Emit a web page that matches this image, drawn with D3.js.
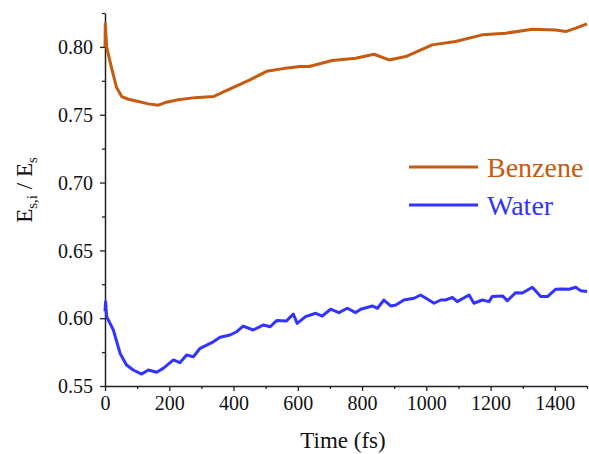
<!DOCTYPE html>
<html>
<head>
<meta charset="utf-8">
<script src="https://cdn.jsdelivr.net/npm/d3@7"></script>
<style>
  html, body { margin: 0; padding: 0; background: #fff; }
  svg { display: block; }
  svg text { font-family: "Liberation Serif", "Times New Roman", serif !important; }
</style>
</head>
<body>
<svg id="chart" width="589" height="454"></svg>
<script>
// ---- data ----
const benzeneTime = [0, 1, 5, 8, 21, 36, 52, 73, 104, 135, 166, 187, 228, 280, 337, 379, 451, 503, 555, 607, 635, 707, 780, 837, 884, 936, 1018, 1091, 1174, 1247, 1330, 1402, 1434, 1465, 1500];
const benzeneValue = [0.800, 0.817, 0.800, 0.797, 0.784, 0.770, 0.7634, 0.7614, 0.7597, 0.758, 0.757, 0.759, 0.761, 0.7626, 0.7634, 0.768, 0.7757, 0.782, 0.784, 0.7856, 0.7856, 0.790, 0.7917, 0.7946, 0.7904, 0.7929, 0.8015, 0.804, 0.8089, 0.8101, 0.813, 0.8125, 0.8113, 0.8138, 0.817];

const waterTime = [0, 2, 5, 26, 47, 67, 88, 114, 135, 161, 181, 213, 233, 254, 275, 296, 337, 358, 389, 410, 430, 461, 493, 514, 534, 565, 586, 598, 624, 656, 676, 702, 728, 754, 780, 796, 832, 848, 868, 889, 905, 930, 962, 982, 1008, 1024, 1045, 1060, 1081, 1096, 1133, 1148, 1174, 1195, 1205, 1237, 1252, 1278, 1299, 1330, 1356, 1377, 1402, 1423, 1444, 1465, 1480, 1500];
const waterValue = [0.605, 0.6122, 0.6011, 0.5913, 0.574, 0.5655, 0.5618, 0.5588, 0.5618, 0.5601, 0.563, 0.5692, 0.5672, 0.5729, 0.5716, 0.5778, 0.5826, 0.5859, 0.5876, 0.590, 0.5942, 0.5913, 0.595, 0.5937, 0.5982, 0.598, 0.6031, 0.5962, 0.6011, 0.6036, 0.6016, 0.6066, 0.6041, 0.6073, 0.6041, 0.6066, 0.609, 0.6073, 0.6134, 0.609, 0.6097, 0.6134, 0.6147, 0.6171, 0.6134, 0.611, 0.6134, 0.6134, 0.6154, 0.6122, 0.6171, 0.611, 0.6134, 0.6122, 0.6159, 0.6164, 0.6129, 0.6188, 0.6186, 0.6228, 0.6159, 0.6159, 0.6213, 0.6215, 0.6213, 0.6228, 0.6203, 0.6196];

const seriesNames = ["Benzene", "Water"];
const seriesColors = ["#c55a11", "#3333ff"];

const xTicks = [0, 200, 400, 600, 800, 1000, 1200, 1400];
const xMinorTicks = [100, 300, 500, 700, 900, 1100, 1300, 1500];
const yTicks = [0.55, 0.60, 0.65, 0.70, 0.75, 0.80];
const yMinorTicks = [0.575, 0.625, 0.675, 0.725, 0.775, 0.825];

// ---- layout ----
const FONT = '"Liberation Serif", "Times New Roman", serif';
const svg = d3.select("#chart");
const margin = { left: 105, right: 2, top: 13, bottom: 68 };
const W = 589, H = 454;

const x = d3.scaleLinear().domain([0, 1500]).range([margin.left, W - margin.right]);
const y = d3.scaleLinear().domain([0.55, 0.825]).range([H - margin.bottom, margin.top]);

const axisColor = "#222";

// minor ticks
svg.append("g")
  .attr("transform", `translate(0,${y(0.55)})`)
  .call(d3.axisBottom(x).tickValues(xMinorTicks).tickSize(3).tickFormat("").tickSizeOuter(0))
  .call(g => g.select(".domain").remove())
  .call(g => g.selectAll("line").attr("stroke", axisColor).attr("stroke-width", 1.3));
svg.append("g")
  .attr("transform", `translate(${x(0)},0)`)
  .call(d3.axisLeft(y).tickValues(yMinorTicks).tickSize(3).tickFormat("").tickSizeOuter(0))
  .call(g => g.select(".domain").remove())
  .call(g => g.selectAll("line").attr("stroke", axisColor).attr("stroke-width", 1.3));

// major axes
const xAxis = svg.append("g")
  .attr("transform", `translate(0,${y(0.55)})`)
  .call(d3.axisBottom(x).tickValues(xTicks).tickSize(5).tickPadding(5).tickSizeOuter(0).tickFormat(d3.format("d")));
const yAxis = svg.append("g")
  .attr("transform", `translate(${x(0)},0)`)
  .call(d3.axisLeft(y).tickValues(yTicks).tickSize(5).tickPadding(7).tickSizeOuter(0).tickFormat(d3.format(".2f")));

[xAxis, yAxis].forEach(a => {
  a.attr("font-family", FONT).attr("font-size", 20);
  a.select(".domain").attr("stroke", axisColor).attr("stroke-width", 1.5);
  a.selectAll(".tick line").attr("stroke", axisColor).attr("stroke-width", 1.3);
  a.selectAll(".tick text")
    .attr("fill", "#111")
    .attr("font-family", FONT)
    .attr("font-size", 20);
});
yAxis.selectAll(".tick text").attr("dy", "0.34em");

// lines
const line = d3.line().x(d => x(d[0])).y(d => y(d[1]));
const series = [
  d3.zip(benzeneTime, benzeneValue),
  d3.zip(waterTime, waterValue)
];
series.forEach((s, i) => {
  svg.append("path")
    .datum(s)
    .attr("d", line)
    .attr("fill", "none")
    .attr("stroke", seriesColors[i])
    .attr("stroke-width", 3)
    .attr("stroke-linejoin", "round")
    .attr("stroke-linecap", "butt");
});

// axis titles
svg.append("text")
  .attr("x", 343).attr("y", 448)
  .attr("text-anchor", "middle")
  .attr("fill", "#111")
  .attr("font-family", FONT)
  .attr("font-size", 23)
  .text("Time (fs)");

const yt = svg.append("text")
  .attr("transform", "translate(32,190) rotate(-90)")
  .attr("text-anchor", "middle")
  .attr("fill", "#111")
  .attr("font-family", FONT)
  .attr("font-size", 23);
yt.append("tspan").text("E");
yt.append("tspan").attr("dy", 5).attr("font-size", 15).text("s,i");
yt.append("tspan").attr("dy", -5).text(" / E");
yt.append("tspan").attr("dy", 5).attr("font-size", 15).text("s");

// legend
const legendY = [167, 205];
seriesNames.forEach((name, i) => {
  svg.append("line")
    .attr("x1", 409).attr("x2", 478)
    .attr("y1", legendY[i]).attr("y2", legendY[i])
    .attr("stroke", seriesColors[i])
    .attr("stroke-width", 3);
  svg.append("text")
    .attr("x", 487).attr("y", legendY[i] + 10)
    .attr("fill", seriesColors[i])
    .attr("font-family", FONT)
    .attr("font-size", 28)
    .text(name);
});
</script>
</body>
</html>
